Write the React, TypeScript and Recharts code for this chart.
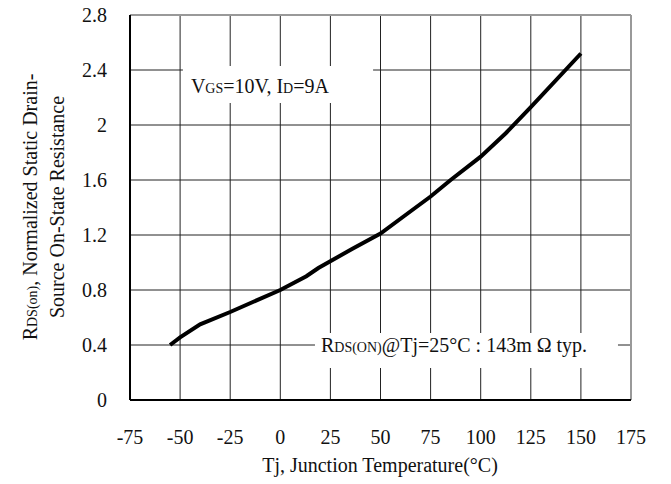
import { LineChart, Line, XAxis, YAxis, CartesianGrid, ReferenceArea, ReferenceLine } from 'recharts';

// Tj (°C) vs normalized RDS(on)
const temps = [-55, -50, -40, -25, 0, 13, 19, 36, 50, 62, 75, 85, 100, 112.5, 125, 150];
const rdsNorm = [0.4, 0.455, 0.55, 0.64, 0.8, 0.9, 0.96, 1.1, 1.21, 1.34, 1.48, 1.6, 1.77, 1.94, 2.13, 2.52];

const xTicks = [-75, -50, -25, 0, 25, 50, 75, 100, 125, 150, 175];
const yTicks = [0, 0.4, 0.8, 1.2, 1.6, 2, 2.4, 2.8];

const data = temps.map((t, i) => ({ t, r: rdsNorm[i] }));

const FONT = '"Liberation Serif", "Times New Roman", serif';
const INK = '#111';

function XTick(props: any) {
  const { x, y, payload } = props;
  return (
    <text x={x} y={y + 44} textAnchor="middle" fontFamily={FONT} fontSize={20} fill={INK}>
      {payload.value}
    </text>
  );
}

function YTick(props: any) {
  const { x, y, payload } = props;
  return (
    <text x={x} y={y + 7} textAnchor="end" fontFamily={FONT} fontSize={20} fill={INK}>
      {payload.value}
    </text>
  );
}

function YTitle() {
  const cy = 207;
  return (
    <g fontFamily={FONT} fontSize={20} fill={INK}>
      <text x={37} y={cy} textAnchor="middle" transform={`rotate(-90, 37, ${cy})`}>
        R<tspan fontSize={14}>DS(on)</tspan>, Normalized Static Drain-
      </text>
      <text x={64} y={cy} textAnchor="middle" transform={`rotate(-90, 64, ${cy})`}>
        Source On-State Resistance
      </text>
    </g>
  );
}

function XTitle() {
  return (
    <text x={380} y={472} textAnchor="middle" fontFamily={FONT} fontSize={20} fill={INK}>
      Tj, Junction Temperature(°C)
    </text>
  );
}

function CondText(props: any) {
  const { viewBox } = props;
  return (
    <text x={viewBox.x + 8} y={viewBox.y + 27} fontFamily={FONT} fontSize={20} fill={INK}>
      V<tspan fontSize={14}>GS</tspan>=10V, I<tspan fontSize={14}>D</tspan>=9A
    </text>
  );
}

function RefText(props: any) {
  const { viewBox } = props;
  return (
    <text x={viewBox.x + 6} y={viewBox.y + 19} fontFamily={FONT} fontSize={20} fill={INK}>
      R<tspan fontSize={14}>DS(ON)</tspan>@Tj=25°C : 143m Ω typ.
    </text>
  );
}

export default function App() {
  return (
    <div style={{ position: 'absolute', left: 0, top: 0, background: '#fff' }}>
      <LineChart width={671} height={484} data={data} margin={{ top: 15, right: 40, left: 0, bottom: 0 }}>
        <CartesianGrid stroke="#222" strokeWidth={1} />
        <XAxis
          dataKey="t"
          type="number"
          domain={[-75, 175]}
          ticks={xTicks}
          height={84}
          axisLine={{ stroke: '#000', strokeWidth: 2 }}
          tickLine={false}
          tickSize={0}
          tickMargin={0}
          tick={<XTick />}
          label={{ content: () => <XTitle /> }}
        />
        <YAxis
          type="number"
          domain={[0, 2.8]}
          ticks={yTicks}
          width={130}
          axisLine={{ stroke: '#000', strokeWidth: 2 }}
          tickLine={false}
          tickSize={0}
          tickMargin={23}
          tick={<YTick />}
          label={{ content: () => <YTitle /> }}
        />
        <ReferenceLine y={2.8} stroke="#999" strokeWidth={2} />
        <ReferenceLine x={175} stroke="#999" strokeWidth={2} />
        <ReferenceArea
          x1={-48.6}
          x2={46.3}
          y1={2.16}
          y2={2.43}
          fill="#fff"
          fillOpacity={1}
          stroke="none"
          label={{ content: (p: any) => <CondText {...p} /> }}
        />
        <ReferenceArea
          x1={17.3}
          x2={168.5}
          y1={0.233}
          y2={0.487}
          fill="#fff"
          fillOpacity={1}
          stroke="none"
          label={{ content: (p: any) => <RefText {...p} /> }}
        />
        <Line
          type="linear"
          dataKey="r"
          stroke="#000"
          strokeWidth={4}
          dot={false}
          isAnimationActive={false}
        />
      </LineChart>
    </div>
  );
}
